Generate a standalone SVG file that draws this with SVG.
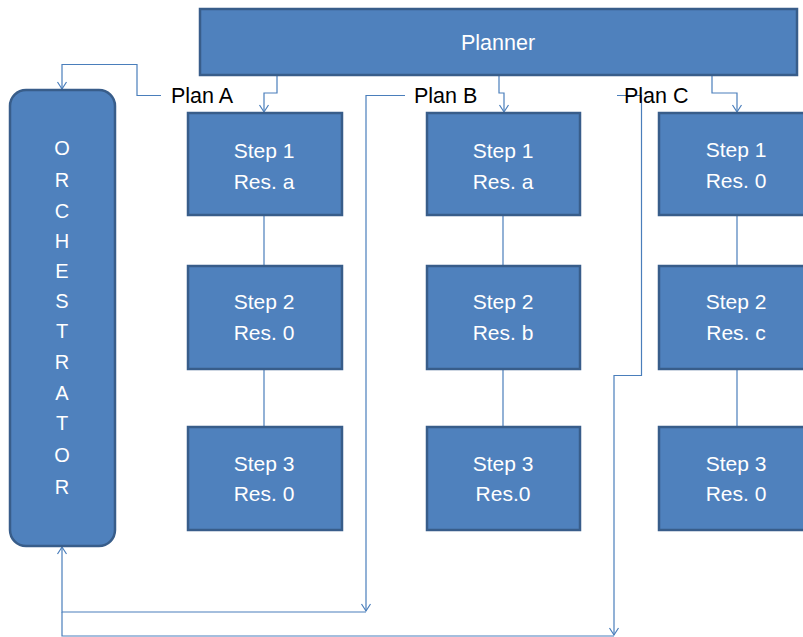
<svg xmlns="http://www.w3.org/2000/svg" width="803" height="637" viewBox="0 0 803 637">
<style>
.box{fill:#4F81BD;stroke:#385D8A;stroke-width:2.5}
.wt{fill:#fff;font-family:"Liberation Sans",Arial,sans-serif;font-size:21px;text-anchor:middle}
.ot{fill:#fff;font-family:"Liberation Sans",Arial,sans-serif;font-size:20px;text-anchor:middle}
.lb{fill:#000;font-family:"Liberation Sans",Arial,sans-serif;font-size:21.5px}
.cn{fill:none;stroke:#4A7EBB;stroke-width:1.2}
</style>
<defs>
<marker id="ar" viewBox="-9 -6 11 12" refX="0" refY="0" markerWidth="11" markerHeight="12" markerUnits="userSpaceOnUse" orient="auto">
<path d="M-7,-4.5 L0,0 L-7,4.5" fill="none" stroke="#4A7EBB" stroke-width="1.2"/>
</marker>
</defs>
<rect width="803" height="637" fill="#fff"/>
<g id="connectors">
<polyline class="cn" points="277,76 277,93 264,93 264,112" marker-end="url(#ar)"/>
<polyline class="cn" points="499,76 499,93 504,93 504,112" marker-end="url(#ar)"/>
<polyline class="cn" points="712,76 712,93 737,93 737,112" marker-end="url(#ar)"/>
<polyline class="cn" points="161,95.5 137,95.5 137,64.5 62,64.5 62,89" marker-end="url(#ar)"/>
<polyline class="cn" points="405,95.5 366,95.5 366,611" marker-end="url(#ar)"/>
<polyline class="cn" points="366,612 62,612 62,547" marker-end="url(#ar)"/>
<polyline class="cn" points="617,95.5 641.5,95.5 641.5,375.5 614,375.5 614,635" marker-end="url(#ar)"/>
<polyline class="cn" points="62,612 62,636 614,636"/>
<line class="cn" x1="264" y1="216" x2="264" y2="266"/>
<line class="cn" x1="264" y1="369" x2="264" y2="427"/>
<line class="cn" x1="503" y1="216" x2="503" y2="266"/>
<line class="cn" x1="503" y1="369" x2="503" y2="427"/>
<line class="cn" x1="737" y1="216" x2="737" y2="266"/>
<line class="cn" x1="737" y1="369" x2="737" y2="427"/>
</g>
<g id="planner">
<rect class="box" x="200" y="9" width="597" height="66"/>
<text class="wt" x="498" y="50" style="font-size:21.5px">Planner</text>
</g>
<g id="orchestrator">
<rect class="box" x="10" y="90" width="105" height="456" rx="16"/>
<text class="ot" x="62" y="155">O</text>
<text class="ot" x="62" y="187">R</text>
<text class="ot" x="62" y="218">C</text>
<text class="ot" x="62" y="248">H</text>
<text class="ot" x="62" y="278">E</text>
<text class="ot" x="62" y="308">S</text>
<text class="ot" x="62" y="338">T</text>
<text class="ot" x="62" y="369">R</text>
<text class="ot" x="62" y="400">A</text>
<text class="ot" x="62" y="430">T</text>
<text class="ot" x="62" y="462">O</text>
<text class="ot" x="62" y="494">R</text>
</g>
<g id="label-plan-a"><text class="lb" x="171" y="103">Plan A</text></g>
<g id="label-plan-b"><text class="lb" x="414" y="103">Plan B</text></g>
<g id="label-plan-c"><text class="lb" x="624" y="103">Plan C</text></g>
<g id="a1"><rect class="box" x="188" y="113" width="154" height="102"/><text class="wt" x="264" y="158">Step 1</text><text class="wt" x="264" y="189">Res. a</text></g>
<g id="a2"><rect class="box" x="188" y="266" width="154" height="103"/><text class="wt" x="264" y="309">Step 2</text><text class="wt" x="264" y="340">Res. 0</text></g>
<g id="a3"><rect class="box" x="188" y="427" width="154" height="103"/><text class="wt" x="264" y="471">Step 3</text><text class="wt" x="264" y="501">Res. 0</text></g>
<g id="b1"><rect class="box" x="427" y="113" width="153" height="102"/><text class="wt" x="503" y="158">Step 1</text><text class="wt" x="503" y="189">Res. a</text></g>
<g id="b2"><rect class="box" x="427" y="266" width="153" height="103"/><text class="wt" x="503" y="309">Step 2</text><text class="wt" x="503" y="340">Res. b</text></g>
<g id="b3"><rect class="box" x="427" y="427" width="153" height="103"/><text class="wt" x="503" y="471">Step 3</text><text class="wt" x="503" y="501">Res.0</text></g>
<g id="c1"><rect class="box" x="659" y="113" width="153" height="102"/><text class="wt" x="736" y="157">Step 1</text><text class="wt" x="736" y="188">Res. 0</text></g>
<g id="c2"><rect class="box" x="659" y="266" width="153" height="103"/><text class="wt" x="736" y="309">Step 2</text><text class="wt" x="736" y="340">Res. c</text></g>
<g id="c3"><rect class="box" x="659" y="427" width="153" height="103"/><text class="wt" x="736" y="471">Step 3</text><text class="wt" x="736" y="501">Res. 0</text></g>
</svg>
